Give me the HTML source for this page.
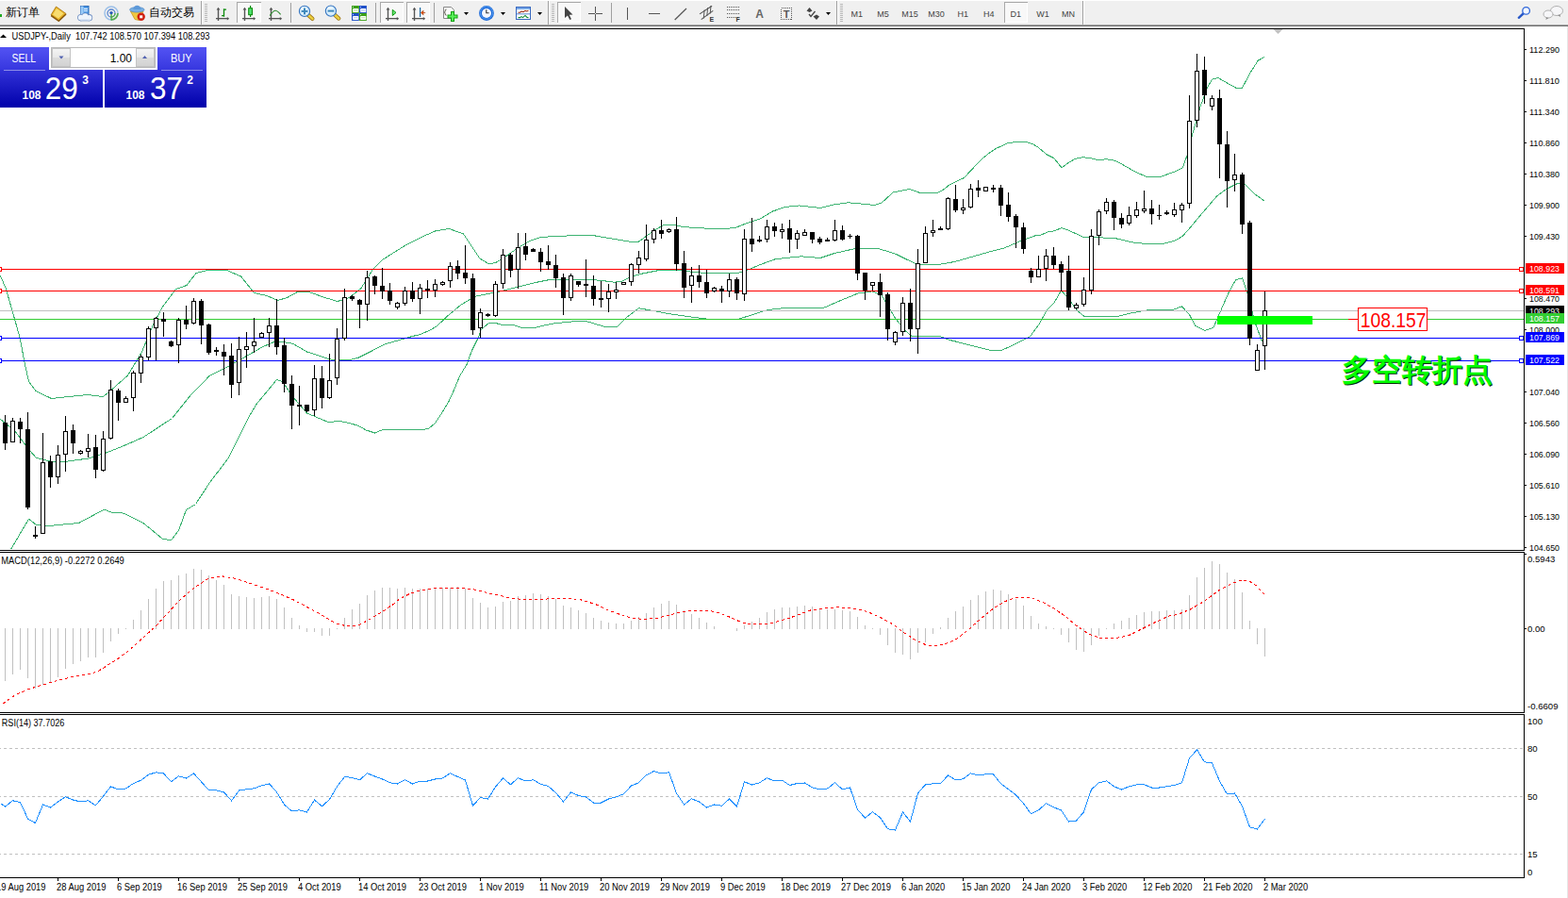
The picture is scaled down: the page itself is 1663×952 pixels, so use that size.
<!DOCTYPE html>
<html><head><meta charset="utf-8"><title>USDJPY Daily</title>
<style>
html,body{margin:0;padding:0;background:#fff;}
body{width:1663px;height:952px;overflow:hidden;font-family:"Liberation Sans",sans-serif;}
svg{display:block;position:absolute;left:0;top:0;}
text{font-family:"Liberation Sans",sans-serif;}
</style></head>
<body>
<svg width="1663" height="952" viewBox="0 0 1663 952">
<rect x="0" y="0" width="1663" height="952" fill="#fff" />
<rect x="0" y="1" width="1663" height="25" fill="#f0f0f0" />
<rect x="0" y="26" width="1663" height="1" fill="#a8a8a8" />
<rect x="0" y="27" width="1663" height="1" fill="#6e6e6e" />
<rect x="1662" y="28" width="1" height="924" fill="#e6e6e6" />
<rect x="0" y="30" width="1617" height="1" fill="#000" />
<rect x="1616" y="30" width="1" height="554" fill="#000" />
<rect x="0" y="583" width="1617" height="1" fill="#000" />
<rect x="0" y="585" width="1617" height="1" fill="#000" />
<rect x="1616" y="585" width="1" height="171" fill="#000" />
<rect x="0" y="755" width="1617" height="1" fill="#000" />
<rect x="0" y="757" width="1617" height="1" fill="#000" />
<rect x="1616" y="757" width="1" height="174" fill="#000" />
<rect x="0" y="930" width="1617" height="1" fill="#000" />
<g font-family="Liberation Sans, sans-serif" font-size="9">
<rect x="1617" y="52" width="2" height="1" fill="#000" />
<text x="1622" y="55.6" font-size="9.8" fill="#000" text-anchor="start" font-weight="normal" textLength="32" lengthAdjust="spacingAndGlyphs">112.290</text>
<rect x="1617" y="85" width="2" height="1" fill="#000" />
<text x="1622" y="88.6" font-size="9.8" fill="#000" text-anchor="start" font-weight="normal" textLength="32" lengthAdjust="spacingAndGlyphs">111.810</text>
<rect x="1617" y="118" width="2" height="1" fill="#000" />
<text x="1622" y="121.6" font-size="9.8" fill="#000" text-anchor="start" font-weight="normal" textLength="32" lengthAdjust="spacingAndGlyphs">111.340</text>
<rect x="1617" y="151" width="2" height="1" fill="#000" />
<text x="1622" y="154.6" font-size="9.8" fill="#000" text-anchor="start" font-weight="normal" textLength="32" lengthAdjust="spacingAndGlyphs">110.860</text>
<rect x="1617" y="184" width="2" height="1" fill="#000" />
<text x="1622" y="187.6" font-size="9.8" fill="#000" text-anchor="start" font-weight="normal" textLength="32" lengthAdjust="spacingAndGlyphs">110.380</text>
<rect x="1617" y="217" width="2" height="1" fill="#000" />
<text x="1622" y="220.6" font-size="9.8" fill="#000" text-anchor="start" font-weight="normal" textLength="32" lengthAdjust="spacingAndGlyphs">109.900</text>
<rect x="1617" y="250" width="2" height="1" fill="#000" />
<text x="1622" y="253.6" font-size="9.8" fill="#000" text-anchor="start" font-weight="normal" textLength="32" lengthAdjust="spacingAndGlyphs">109.430</text>
<rect x="1617" y="316" width="2" height="1" fill="#000" />
<text x="1622" y="319.6" font-size="9.8" fill="#000" text-anchor="start" font-weight="normal" textLength="32" lengthAdjust="spacingAndGlyphs">108.470</text>
<rect x="1617" y="349" width="2" height="1" fill="#000" />
<text x="1622" y="352.6" font-size="9.8" fill="#000" text-anchor="start" font-weight="normal" textLength="32" lengthAdjust="spacingAndGlyphs">108.000</text>
<rect x="1617" y="415" width="2" height="1" fill="#000" />
<text x="1622" y="418.6" font-size="9.8" fill="#000" text-anchor="start" font-weight="normal" textLength="32" lengthAdjust="spacingAndGlyphs">107.040</text>
<rect x="1617" y="448" width="2" height="1" fill="#000" />
<text x="1622" y="451.6" font-size="9.8" fill="#000" text-anchor="start" font-weight="normal" textLength="32" lengthAdjust="spacingAndGlyphs">106.560</text>
<rect x="1617" y="481" width="2" height="1" fill="#000" />
<text x="1622" y="484.6" font-size="9.8" fill="#000" text-anchor="start" font-weight="normal" textLength="32" lengthAdjust="spacingAndGlyphs">106.090</text>
<rect x="1617" y="514" width="2" height="1" fill="#000" />
<text x="1622" y="517.6" font-size="9.8" fill="#000" text-anchor="start" font-weight="normal" textLength="32" lengthAdjust="spacingAndGlyphs">105.610</text>
<rect x="1617" y="547" width="2" height="1" fill="#000" />
<text x="1622" y="550.6" font-size="9.8" fill="#000" text-anchor="start" font-weight="normal" textLength="32" lengthAdjust="spacingAndGlyphs">105.130</text>
<rect x="1617" y="580" width="2" height="1" fill="#000" />
<text x="1622" y="583.6" font-size="9.8" fill="#000" text-anchor="start" font-weight="normal" textLength="32" lengthAdjust="spacingAndGlyphs">104.650</text>
<text x="1620" y="596" font-size="9.6" fill="#000" text-anchor="start" font-weight="normal" >0.5943</text>
<rect x="1617" y="666" width="2" height="1" fill="#000" />
<text x="1620" y="669.5" font-size="9.6" fill="#000" text-anchor="start" font-weight="normal" >0.00</text>
<text x="1620" y="752" font-size="9.6" fill="#000" text-anchor="start" font-weight="normal" >-0.6609</text>
<rect x="1617" y="587" width="2" height="1" fill="#000" />
<text x="1620" y="767.5" font-size="9.6" fill="#000" text-anchor="start" font-weight="normal" >100</text>
<text x="1620" y="796.5" font-size="9.6" fill="#000" text-anchor="start" font-weight="normal" >80</text>
<text x="1620" y="847.5" font-size="9.6" fill="#000" text-anchor="start" font-weight="normal" >50</text>
<text x="1620" y="908.5" font-size="9.6" fill="#000" text-anchor="start" font-weight="normal" >15</text>
<text x="1620" y="927.5" font-size="9.6" fill="#000" text-anchor="start" font-weight="normal" >0</text>
</g>
<g shape-rendering="crispEdges">
<polyline points="0.5,292.5 6.2,305.8 13.1,329.7 21.3,358.7 25.7,382.7 30.5,404.5 38.0,414.5 54.5,422.5 73.0,420.5 93.0,418.5 109.5,420.5 118.0,413.5 135.5,398.0 150.5,373.0 163.0,343.0 173.0,324.5 186.5,306.5 198.0,302.5 208.0,289.5 220.5,286.5 240.5,286.5 255.5,293.0 269.5,310.5 283.0,313.5 294.5,318.5 304.5,315.5 315.5,309.5 328.0,309.5 343.0,315.0 358.0,319.5 370.5,315.5 383.0,305.5 395.5,285.5 405.5,275.5 416.5,268.5 431.5,259.2 449.0,250.5 461.5,245.0 476.5,242.5 491.5,248.0 501.5,263.0 509.0,274.2 519.0,280.0 526.5,278.0 536.5,271.8 549.0,263.0 561.5,255.5 574.0,251.5 591.5,250.2 611.5,249.8 631.5,250.0 649.0,253.0 666.5,256.0 676.5,256.8 685.2,250.5 694.0,244.2 704.0,238.5 714.0,238.0 724.0,240.5 741.5,241.8 761.5,242.5 779.0,241.8 791.5,236.8 806.5,231.8 819.0,224.2 832.5,219.5 847.5,218.0 870.0,220.5 885.0,216.8 900.0,214.8 915.0,216.2 927.5,217.5 935.0,215.0 947.5,203.8 965.0,200.5 975.0,204.2 995.0,204.2 1000.5,201.1 1006.8,196.1 1014.4,192.3 1022.5,188.5 1030.8,179.7 1039.5,170.2 1048.5,162.7 1056.0,157.6 1068.5,151.9 1076.2,150.7 1088.8,150.7 1095.1,152.5 1101.4,156.4 1110.2,163.9 1117.8,167.7 1126.0,177.8 1132.9,172.7 1140.5,168.3 1148.0,166.8 1155.5,167.3 1165.7,169.8 1173.3,168.7 1182.1,170.2 1189.7,174.0 1199.7,179.7 1208.5,184.1 1215.5,187.2 1230.5,187.5 1245.5,182.2 1254.2,178.0 1259.2,164.2 1264.2,144.2 1273.0,113.0 1280.5,93.0 1285.5,84.2 1291.8,82.5 1300.5,87.5 1310.5,93.0 1317.2,93.8 1325.5,78.0 1334.2,64.2 1341.0,60.5" fill="none" stroke="#3cb371" stroke-width="1" />
<polyline points="0.5,444.5 15.5,456.5 28.5,474.0 38.5,485.5 53.5,489.1 71.2,489.1 93.9,486.0 114.1,479.5 131.5,472.5 152.0,463.5 182.5,443.5 202.5,418.5 222.5,398.2 242.9,388.1 260.5,378.0 278.0,368.0 293.0,361.5 310.5,364.2 325.5,373.0 350.5,381.0 370.5,381.8 380.5,379.0 393.1,372.7 407.6,365.1 420.9,361.3 433.5,357.5 446.1,354.4 456.2,350.0 463.7,345.5 474.0,335.5 489.0,323.0 504.0,314.2 516.5,311.8 529.0,309.2 549.0,304.2 566.5,299.8 581.5,296.8 596.5,296.0 616.5,296.2 636.5,297.2 651.5,299.2 659.0,298.5 669.0,293.5 681.5,290.0 699.0,286.5 716.5,286.2 731.5,288.0 749.0,289.5 766.5,289.8 781.5,289.8 791.5,286.8 806.5,280.5 821.5,275.0 832.5,273.5 850.0,271.8 870.0,273.5 885.0,268.5 905.0,264.0 932.5,263.8 950.0,269.2 962.5,275.5 972.5,280.0 995.0,280.5 1012.5,277.5 1032.5,271.8 1050.0,266.8 1065.0,263.0 1082.5,255.5 1097.5,250.0 1102.5,249.7 1111.5,245.9 1119.0,244.6 1126.0,241.5 1134.2,244.6 1145.5,249.7 1150.0,251.8 1165.0,251.8 1182.5,252.5 1200.0,256.8 1217.5,258.8 1232.5,258.5 1245.5,255.5 1254.2,250.5 1263.0,240.5 1275.5,225.5 1290.5,208.0 1300.5,200.5 1313.0,194.2 1320.5,195.5 1330.5,205.5 1341.0,213.0" fill="none" stroke="#3cb371" stroke-width="1" />
<polyline points="11.5,582.5 30.5,550.2 38.5,556.5 53.5,557.3 83.5,554.5 110.5,540.1 119.2,543.5 131.5,544.1 152.0,554.5 172.2,571.1 181.5,572.9 189.5,562.3 197.5,540.5 207.5,534.5 222.5,511.5 242.5,485.3 263.1,443.5 272.0,428.5 293.5,402.5 299.5,404.5 310.5,420.5 325.5,438.0 348.0,447.5 360.5,446.5 370.5,448.5 380.5,451.5 388.1,455.9 397.5,459.0 405.1,455.9 418.3,455.9 433.5,455.3 443.5,455.9 454.3,454.6 461.2,448.9 468.8,437.6 476.3,425.0 481.4,413.6 487.7,398.5 495.3,385.9 500.3,372.0 506.6,359.4 510.4,349.3 518.0,342.8 526.8,342.8 534.3,344.9 543.2,344.0 554.5,347.8 565.9,347.8 577.2,344.9 588.5,342.8 606.5,341.0 621.5,340.5 634.0,344.2 644.0,347.0 654.0,346.8 664.0,336.8 677.5,326.8 691.5,329.2 711.5,333.0 729.0,335.5 749.0,338.0 766.5,338.5 784.0,338.0 796.5,334.2 811.5,329.2 824.0,327.2 832.5,326.8 872.5,326.8 890.0,319.2 910.0,311.0 925.0,308.8 935.0,313.0 942.5,325.5 950.0,338.0 960.0,350.5 967.5,356.8 997.5,356.8 1007.5,360.5 1032.5,366.8 1052.5,371.8 1062.5,371.2 1072.5,366.8 1092.5,356.8 1102.5,343.0 1110.0,329.2 1117.5,321.8 1125.5,308.0 1132.5,315.5 1142.5,329.2 1150.0,335.5 1182.5,336.0 1200.0,331.8 1217.5,328.8 1243.0,328.8 1253.5,324.8 1261.8,334.2 1268.0,345.5 1278.0,350.5 1286.8,347.5 1294.2,330.5 1303.0,310.5 1310.5,296.8 1317.5,294.8 1323.0,310.5 1330.5,340.5 1338.0,360.5 1340.5,363.0" fill="none" stroke="#3cb371" stroke-width="1" />
</g>
<rect x="0" y="329" width="1616" height="1" fill="#c0c0c0" />
<rect x="0" y="285" width="1616" height="1" fill="#ff0000" />
<rect x="-2.5" y="283.5" width="4" height="4" fill="#fff" stroke="#ff0000" stroke-width="1" shape-rendering="crispEdges"/>
<rect x="1611.5" y="283.5" width="4" height="4" fill="#fff" stroke="#ff0000" stroke-width="1" shape-rendering="crispEdges"/>
<rect x="0" y="308" width="1616" height="1" fill="#ff0000" />
<rect x="-2.5" y="306.5" width="4" height="4" fill="#fff" stroke="#ff0000" stroke-width="1" shape-rendering="crispEdges"/>
<rect x="1611.5" y="306.5" width="4" height="4" fill="#fff" stroke="#ff0000" stroke-width="1" shape-rendering="crispEdges"/>
<rect x="0" y="358" width="1616" height="1" fill="#0000ff" />
<rect x="-2.5" y="356.5" width="4" height="4" fill="#fff" stroke="#0000ff" stroke-width="1" shape-rendering="crispEdges"/>
<rect x="1611.5" y="356.5" width="4" height="4" fill="#fff" stroke="#0000ff" stroke-width="1" shape-rendering="crispEdges"/>
<rect x="0" y="382" width="1616" height="1" fill="#0000ff" />
<rect x="-2.5" y="380.5" width="4" height="4" fill="#fff" stroke="#0000ff" stroke-width="1" shape-rendering="crispEdges"/>
<rect x="1611.5" y="380.5" width="4" height="4" fill="#fff" stroke="#0000ff" stroke-width="1" shape-rendering="crispEdges"/>
<rect x="0" y="338" width="1616" height="1" fill="#32cd32" />
<g shape-rendering="crispEdges">
<rect x="5" y="440" width="1" height="37" fill="#000" />
<rect x="3" y="448" width="5" height="22" fill="#000" />
<rect x="13" y="443" width="1" height="26" fill="#000" />
<rect x="11" y="446" width="5" height="23" fill="#000" />
<rect x="12" y="447" width="3" height="21" fill="#fff" />
<rect x="21" y="443" width="1" height="27" fill="#000" />
<rect x="19" y="447" width="5" height="8" fill="#000" />
<rect x="29" y="437" width="1" height="103" fill="#000" />
<rect x="27" y="455" width="5" height="83" fill="#000" />
<rect x="37" y="558" width="1" height="13" fill="#000" />
<rect x="35" y="567" width="5" height="2" fill="#000" />
<rect x="45" y="459" width="1" height="107" fill="#000" />
<rect x="43" y="490" width="5" height="76" fill="#000" />
<rect x="44" y="491" width="3" height="74" fill="#fff" />
<rect x="53" y="483" width="1" height="34" fill="#000" />
<rect x="51" y="489" width="5" height="17" fill="#000" />
<rect x="61" y="472" width="1" height="41" fill="#000" />
<rect x="59" y="482" width="5" height="24" fill="#000" />
<rect x="60" y="483" width="3" height="22" fill="#fff" />
<rect x="69" y="441" width="1" height="59" fill="#000" />
<rect x="67" y="457" width="5" height="25" fill="#000" />
<rect x="68" y="458" width="3" height="23" fill="#fff" />
<rect x="77" y="450" width="1" height="31" fill="#000" />
<rect x="75" y="456" width="5" height="14" fill="#000" />
<rect x="85" y="477" width="1" height="5" fill="#000" />
<rect x="83" y="478" width="5" height="3" fill="#000" />
<rect x="84" y="479" width="3" height="1" fill="#fff" />
<rect x="93" y="460" width="1" height="25" fill="#000" />
<rect x="91" y="475" width="5" height="4" fill="#000" />
<rect x="92" y="476" width="3" height="2" fill="#fff" />
<rect x="101" y="461" width="1" height="46" fill="#000" />
<rect x="99" y="474" width="5" height="24" fill="#000" />
<rect x="109" y="457" width="1" height="43" fill="#000" />
<rect x="107" y="465" width="5" height="34" fill="#000" />
<rect x="108" y="466" width="3" height="32" fill="#fff" />
<rect x="117" y="403" width="1" height="63" fill="#000" />
<rect x="115" y="413" width="5" height="52" fill="#000" />
<rect x="116" y="414" width="3" height="50" fill="#fff" />
<rect x="125" y="412" width="1" height="34" fill="#000" />
<rect x="123" y="414" width="5" height="13" fill="#000" />
<rect x="133" y="420" width="1" height="7" fill="#000" />
<rect x="131" y="422" width="5" height="5" fill="#000" />
<rect x="132" y="423" width="3" height="3" fill="#fff" />
<rect x="141" y="393" width="1" height="43" fill="#000" />
<rect x="139" y="395" width="5" height="27" fill="#000" />
<rect x="140" y="396" width="3" height="25" fill="#fff" />
<rect x="149" y="376" width="1" height="30" fill="#000" />
<rect x="147" y="378" width="5" height="18" fill="#000" />
<rect x="148" y="379" width="3" height="16" fill="#fff" />
<rect x="157" y="346" width="1" height="36" fill="#000" />
<rect x="155" y="348" width="5" height="31" fill="#000" />
<rect x="156" y="349" width="3" height="29" fill="#fff" />
<rect x="165" y="336" width="1" height="46" fill="#000" />
<rect x="163" y="337" width="5" height="11" fill="#000" />
<rect x="164" y="338" width="3" height="9" fill="#fff" />
<rect x="173" y="331" width="1" height="26" fill="#000" />
<rect x="171" y="338" width="5" height="3" fill="#000" />
<rect x="181" y="361" width="1" height="7" fill="#000" />
<rect x="179" y="362" width="5" height="5" fill="#000" />
<rect x="189" y="337" width="1" height="48" fill="#000" />
<rect x="187" y="339" width="5" height="27" fill="#000" />
<rect x="188" y="340" width="3" height="25" fill="#fff" />
<rect x="197" y="324" width="1" height="25" fill="#000" />
<rect x="195" y="339" width="5" height="5" fill="#000" />
<rect x="205" y="316" width="1" height="28" fill="#000" />
<rect x="203" y="319" width="5" height="24" fill="#000" />
<rect x="204" y="320" width="3" height="22" fill="#fff" />
<rect x="213" y="317" width="1" height="48" fill="#000" />
<rect x="211" y="319" width="5" height="26" fill="#000" />
<rect x="221" y="343" width="1" height="33" fill="#000" />
<rect x="219" y="344" width="5" height="30" fill="#000" />
<rect x="229" y="368" width="1" height="9" fill="#000" />
<rect x="227" y="371" width="5" height="2" fill="#000" />
<rect x="237" y="365" width="1" height="33" fill="#000" />
<rect x="235" y="373" width="5" height="5" fill="#000" />
<rect x="245" y="364" width="1" height="58" fill="#000" />
<rect x="243" y="377" width="5" height="31" fill="#000" />
<rect x="253" y="357" width="1" height="62" fill="#000" />
<rect x="251" y="370" width="5" height="36" fill="#000" />
<rect x="252" y="371" width="3" height="34" fill="#fff" />
<rect x="261" y="352" width="1" height="38" fill="#000" />
<rect x="259" y="367" width="5" height="4" fill="#000" />
<rect x="260" y="368" width="3" height="2" fill="#fff" />
<rect x="269" y="337" width="1" height="37" fill="#000" />
<rect x="267" y="362" width="5" height="5" fill="#000" />
<rect x="268" y="363" width="3" height="3" fill="#fff" />
<rect x="277" y="352" width="1" height="6" fill="#000" />
<rect x="275" y="353" width="5" height="5" fill="#000" />
<rect x="276" y="354" width="3" height="3" fill="#fff" />
<rect x="285" y="337" width="1" height="31" fill="#000" />
<rect x="283" y="345" width="5" height="8" fill="#000" />
<rect x="284" y="346" width="3" height="6" fill="#fff" />
<rect x="293" y="317" width="1" height="59" fill="#000" />
<rect x="291" y="345" width="5" height="23" fill="#000" />
<rect x="301" y="358" width="1" height="58" fill="#000" />
<rect x="299" y="366" width="5" height="41" fill="#000" />
<rect x="309" y="398" width="1" height="57" fill="#000" />
<rect x="307" y="407" width="5" height="23" fill="#000" />
<rect x="317" y="409" width="1" height="42" fill="#000" />
<rect x="315" y="429" width="5" height="2" fill="#000" />
<rect x="325" y="429" width="1" height="8" fill="#000" />
<rect x="323" y="429" width="5" height="7" fill="#000" />
<rect x="333" y="387" width="1" height="54" fill="#000" />
<rect x="331" y="401" width="5" height="34" fill="#000" />
<rect x="332" y="402" width="3" height="32" fill="#fff" />
<rect x="341" y="388" width="1" height="45" fill="#000" />
<rect x="339" y="401" width="5" height="21" fill="#000" />
<rect x="349" y="375" width="1" height="48" fill="#000" />
<rect x="347" y="403" width="5" height="19" fill="#000" />
<rect x="348" y="404" width="3" height="17" fill="#fff" />
<rect x="357" y="348" width="1" height="60" fill="#000" />
<rect x="355" y="359" width="5" height="42" fill="#000" />
<rect x="356" y="360" width="3" height="40" fill="#fff" />
<rect x="365" y="306" width="1" height="55" fill="#000" />
<rect x="363" y="315" width="5" height="44" fill="#000" />
<rect x="364" y="316" width="3" height="42" fill="#fff" />
<rect x="373" y="313" width="1" height="6" fill="#000" />
<rect x="371" y="314" width="5" height="3" fill="#000" />
<rect x="381" y="317" width="1" height="31" fill="#000" />
<rect x="379" y="318" width="5" height="5" fill="#000" />
<rect x="389" y="287" width="1" height="53" fill="#000" />
<rect x="387" y="294" width="5" height="29" fill="#000" />
<rect x="388" y="295" width="3" height="27" fill="#fff" />
<rect x="397" y="292" width="1" height="20" fill="#000" />
<rect x="395" y="293" width="5" height="10" fill="#000" />
<rect x="405" y="284" width="1" height="33" fill="#000" />
<rect x="403" y="303" width="5" height="6" fill="#000" />
<rect x="413" y="300" width="1" height="23" fill="#000" />
<rect x="411" y="308" width="5" height="11" fill="#000" />
<rect x="421" y="320" width="1" height="8" fill="#000" />
<rect x="419" y="321" width="5" height="5" fill="#000" />
<rect x="420" y="322" width="3" height="3" fill="#fff" />
<rect x="429" y="304" width="1" height="20" fill="#000" />
<rect x="427" y="308" width="5" height="14" fill="#000" />
<rect x="428" y="309" width="3" height="12" fill="#fff" />
<rect x="437" y="299" width="1" height="21" fill="#000" />
<rect x="435" y="308" width="5" height="9" fill="#000" />
<rect x="445" y="301" width="1" height="32" fill="#000" />
<rect x="443" y="305" width="5" height="12" fill="#000" />
<rect x="444" y="306" width="3" height="10" fill="#fff" />
<rect x="453" y="297" width="1" height="19" fill="#000" />
<rect x="451" y="306" width="5" height="2" fill="#000" />
<rect x="461" y="296" width="1" height="19" fill="#000" />
<rect x="459" y="301" width="5" height="7" fill="#000" />
<rect x="460" y="302" width="3" height="5" fill="#fff" />
<rect x="469" y="298" width="1" height="5" fill="#000" />
<rect x="467" y="299" width="5" height="3" fill="#000" />
<rect x="468" y="300" width="3" height="1" fill="#fff" />
<rect x="477" y="278" width="1" height="27" fill="#000" />
<rect x="475" y="282" width="5" height="16" fill="#000" />
<rect x="476" y="283" width="3" height="14" fill="#fff" />
<rect x="485" y="276" width="1" height="20" fill="#000" />
<rect x="483" y="282" width="5" height="8" fill="#000" />
<rect x="493" y="260" width="1" height="41" fill="#000" />
<rect x="491" y="289" width="5" height="6" fill="#000" />
<rect x="501" y="290" width="1" height="65" fill="#000" />
<rect x="499" y="295" width="5" height="55" fill="#000" />
<rect x="509" y="327" width="1" height="31" fill="#000" />
<rect x="507" y="331" width="5" height="17" fill="#000" />
<rect x="508" y="332" width="3" height="15" fill="#fff" />
<rect x="517" y="332" width="1" height="4" fill="#000" />
<rect x="515" y="333" width="5" height="2" fill="#000" />
<rect x="525" y="298" width="1" height="38" fill="#000" />
<rect x="523" y="301" width="5" height="34" fill="#000" />
<rect x="524" y="302" width="3" height="32" fill="#fff" />
<rect x="533" y="264" width="1" height="42" fill="#000" />
<rect x="531" y="270" width="5" height="31" fill="#000" />
<rect x="532" y="271" width="3" height="29" fill="#fff" />
<rect x="541" y="268" width="1" height="26" fill="#000" />
<rect x="539" y="270" width="5" height="17" fill="#000" />
<rect x="549" y="247" width="1" height="59" fill="#000" />
<rect x="547" y="262" width="5" height="24" fill="#000" />
<rect x="548" y="263" width="3" height="22" fill="#fff" />
<rect x="557" y="247" width="1" height="29" fill="#000" />
<rect x="555" y="261" width="5" height="9" fill="#000" />
<rect x="565" y="263" width="1" height="4" fill="#000" />
<rect x="563" y="264" width="5" height="3" fill="#000" />
<rect x="573" y="263" width="1" height="25" fill="#000" />
<rect x="571" y="267" width="5" height="11" fill="#000" />
<rect x="581" y="260" width="1" height="26" fill="#000" />
<rect x="579" y="277" width="5" height="4" fill="#000" />
<rect x="589" y="270" width="1" height="35" fill="#000" />
<rect x="587" y="281" width="5" height="14" fill="#000" />
<rect x="597" y="290" width="1" height="44" fill="#000" />
<rect x="595" y="294" width="5" height="22" fill="#000" />
<rect x="605" y="290" width="1" height="29" fill="#000" />
<rect x="603" y="292" width="5" height="24" fill="#000" />
<rect x="604" y="293" width="3" height="22" fill="#fff" />
<rect x="613" y="298" width="1" height="6" fill="#000" />
<rect x="611" y="298" width="5" height="4" fill="#000" />
<rect x="621" y="275" width="1" height="40" fill="#000" />
<rect x="619" y="301" width="5" height="2" fill="#000" />
<rect x="629" y="292" width="1" height="32" fill="#000" />
<rect x="627" y="303" width="5" height="14" fill="#000" />
<rect x="637" y="298" width="1" height="28" fill="#000" />
<rect x="635" y="316" width="5" height="2" fill="#000" />
<rect x="645" y="301" width="1" height="30" fill="#000" />
<rect x="643" y="309" width="5" height="8" fill="#000" />
<rect x="644" y="310" width="3" height="6" fill="#fff" />
<rect x="653" y="299" width="1" height="18" fill="#000" />
<rect x="651" y="307" width="5" height="3" fill="#000" />
<rect x="652" y="308" width="3" height="1" fill="#fff" />
<rect x="661" y="299" width="1" height="3" fill="#000" />
<rect x="659" y="299" width="5" height="3" fill="#000" />
<rect x="660" y="300" width="3" height="1" fill="#fff" />
<rect x="669" y="279" width="1" height="24" fill="#000" />
<rect x="667" y="280" width="5" height="19" fill="#000" />
<rect x="668" y="281" width="3" height="17" fill="#fff" />
<rect x="677" y="266" width="1" height="24" fill="#000" />
<rect x="675" y="273" width="5" height="8" fill="#000" />
<rect x="676" y="274" width="3" height="6" fill="#fff" />
<rect x="685" y="238" width="1" height="39" fill="#000" />
<rect x="683" y="254" width="5" height="21" fill="#000" />
<rect x="684" y="255" width="3" height="19" fill="#fff" />
<rect x="693" y="242" width="1" height="16" fill="#000" />
<rect x="691" y="244" width="5" height="10" fill="#000" />
<rect x="692" y="245" width="3" height="8" fill="#fff" />
<rect x="701" y="233" width="1" height="20" fill="#000" />
<rect x="699" y="244" width="5" height="4" fill="#000" />
<rect x="709" y="242" width="1" height="5" fill="#000" />
<rect x="707" y="243" width="5" height="3" fill="#000" />
<rect x="708" y="244" width="3" height="1" fill="#fff" />
<rect x="717" y="230" width="1" height="57" fill="#000" />
<rect x="715" y="243" width="5" height="37" fill="#000" />
<rect x="725" y="266" width="1" height="50" fill="#000" />
<rect x="723" y="279" width="5" height="26" fill="#000" />
<rect x="733" y="283" width="1" height="38" fill="#000" />
<rect x="731" y="292" width="5" height="11" fill="#000" />
<rect x="732" y="293" width="3" height="9" fill="#fff" />
<rect x="741" y="281" width="1" height="24" fill="#000" />
<rect x="739" y="292" width="5" height="7" fill="#000" />
<rect x="749" y="286" width="1" height="30" fill="#000" />
<rect x="747" y="299" width="5" height="12" fill="#000" />
<rect x="757" y="304" width="1" height="6" fill="#000" />
<rect x="755" y="305" width="5" height="4" fill="#000" />
<rect x="756" y="306" width="3" height="2" fill="#fff" />
<rect x="765" y="303" width="1" height="18" fill="#000" />
<rect x="763" y="306" width="5" height="3" fill="#000" />
<rect x="773" y="290" width="1" height="25" fill="#000" />
<rect x="771" y="296" width="5" height="13" fill="#000" />
<rect x="772" y="297" width="3" height="11" fill="#fff" />
<rect x="781" y="294" width="1" height="24" fill="#000" />
<rect x="779" y="296" width="5" height="15" fill="#000" />
<rect x="789" y="243" width="1" height="76" fill="#000" />
<rect x="787" y="253" width="5" height="59" fill="#000" />
<rect x="788" y="254" width="3" height="57" fill="#fff" />
<rect x="797" y="231" width="1" height="36" fill="#000" />
<rect x="795" y="253" width="5" height="6" fill="#000" />
<rect x="805" y="250" width="1" height="7" fill="#000" />
<rect x="803" y="254" width="5" height="2" fill="#000" />
<rect x="813" y="233" width="1" height="24" fill="#000" />
<rect x="811" y="240" width="5" height="14" fill="#000" />
<rect x="812" y="241" width="3" height="12" fill="#fff" />
<rect x="821" y="236" width="1" height="15" fill="#000" />
<rect x="819" y="240" width="5" height="5" fill="#000" />
<rect x="829" y="237" width="1" height="16" fill="#000" />
<rect x="827" y="243" width="5" height="3" fill="#000" />
<rect x="828" y="244" width="3" height="1" fill="#fff" />
<rect x="837" y="233" width="1" height="35" fill="#000" />
<rect x="835" y="242" width="5" height="12" fill="#000" />
<rect x="845" y="244" width="1" height="20" fill="#000" />
<rect x="843" y="247" width="5" height="7" fill="#000" />
<rect x="844" y="248" width="3" height="5" fill="#fff" />
<rect x="853" y="243" width="1" height="7" fill="#000" />
<rect x="851" y="246" width="5" height="4" fill="#000" />
<rect x="852" y="247" width="3" height="2" fill="#fff" />
<rect x="861" y="246" width="1" height="12" fill="#000" />
<rect x="859" y="246" width="5" height="8" fill="#000" />
<rect x="869" y="251" width="1" height="8" fill="#000" />
<rect x="867" y="253" width="5" height="4" fill="#000" />
<rect x="877" y="252" width="1" height="4" fill="#000" />
<rect x="875" y="254" width="5" height="2" fill="#000" />
<rect x="885" y="233" width="1" height="23" fill="#000" />
<rect x="883" y="244" width="5" height="11" fill="#000" />
<rect x="884" y="245" width="3" height="9" fill="#fff" />
<rect x="893" y="239" width="1" height="16" fill="#000" />
<rect x="891" y="244" width="5" height="10" fill="#000" />
<rect x="901" y="248" width="1" height="5" fill="#000" />
<rect x="899" y="250" width="5" height="1" fill="#000" />
<rect x="909" y="249" width="1" height="48" fill="#000" />
<rect x="907" y="250" width="5" height="40" fill="#000" />
<rect x="917" y="289" width="1" height="29" fill="#000" />
<rect x="915" y="289" width="5" height="19" fill="#000" />
<rect x="925" y="299" width="1" height="9" fill="#000" />
<rect x="923" y="299" width="5" height="4" fill="#000" />
<rect x="924" y="300" width="3" height="2" fill="#fff" />
<rect x="933" y="290" width="1" height="46" fill="#000" />
<rect x="931" y="299" width="5" height="14" fill="#000" />
<rect x="941" y="310" width="1" height="51" fill="#000" />
<rect x="939" y="312" width="5" height="37" fill="#000" />
<rect x="949" y="351" width="1" height="15" fill="#000" />
<rect x="947" y="352" width="5" height="11" fill="#000" />
<rect x="948" y="353" width="3" height="9" fill="#fff" />
<rect x="957" y="315" width="1" height="41" fill="#000" />
<rect x="955" y="321" width="5" height="31" fill="#000" />
<rect x="956" y="322" width="3" height="29" fill="#fff" />
<rect x="965" y="306" width="1" height="56" fill="#000" />
<rect x="963" y="321" width="5" height="28" fill="#000" />
<rect x="973" y="264" width="1" height="111" fill="#000" />
<rect x="971" y="279" width="5" height="70" fill="#000" />
<rect x="972" y="280" width="3" height="68" fill="#fff" />
<rect x="981" y="240" width="1" height="39" fill="#000" />
<rect x="979" y="247" width="5" height="32" fill="#000" />
<rect x="980" y="248" width="3" height="30" fill="#fff" />
<rect x="989" y="233" width="1" height="18" fill="#000" />
<rect x="987" y="244" width="5" height="3" fill="#000" />
<rect x="988" y="245" width="3" height="1" fill="#fff" />
<rect x="997" y="240" width="1" height="4" fill="#000" />
<rect x="995" y="242" width="5" height="2" fill="#000" />
<rect x="1005" y="209" width="1" height="35" fill="#000" />
<rect x="1003" y="210" width="5" height="33" fill="#000" />
<rect x="1004" y="211" width="3" height="31" fill="#fff" />
<rect x="1013" y="196" width="1" height="29" fill="#000" />
<rect x="1011" y="211" width="5" height="12" fill="#000" />
<rect x="1021" y="211" width="1" height="16" fill="#000" />
<rect x="1019" y="220" width="5" height="3" fill="#000" />
<rect x="1020" y="221" width="3" height="1" fill="#fff" />
<rect x="1029" y="195" width="1" height="26" fill="#000" />
<rect x="1027" y="200" width="5" height="20" fill="#000" />
<rect x="1028" y="201" width="3" height="18" fill="#fff" />
<rect x="1037" y="191" width="1" height="18" fill="#000" />
<rect x="1035" y="199" width="5" height="3" fill="#000" />
<rect x="1045" y="198" width="1" height="5" fill="#000" />
<rect x="1043" y="198" width="5" height="5" fill="#000" />
<rect x="1044" y="199" width="3" height="3" fill="#fff" />
<rect x="1053" y="196" width="1" height="8" fill="#000" />
<rect x="1051" y="199" width="5" height="2" fill="#000" />
<rect x="1061" y="196" width="1" height="33" fill="#000" />
<rect x="1059" y="199" width="5" height="19" fill="#000" />
<rect x="1069" y="204" width="1" height="31" fill="#000" />
<rect x="1067" y="217" width="5" height="13" fill="#000" />
<rect x="1077" y="227" width="1" height="36" fill="#000" />
<rect x="1075" y="229" width="5" height="12" fill="#000" />
<rect x="1085" y="236" width="1" height="33" fill="#000" />
<rect x="1083" y="241" width="5" height="23" fill="#000" />
<rect x="1093" y="284" width="1" height="16" fill="#000" />
<rect x="1091" y="287" width="5" height="7" fill="#000" />
<rect x="1101" y="271" width="1" height="23" fill="#000" />
<rect x="1099" y="285" width="5" height="9" fill="#000" />
<rect x="1100" y="286" width="3" height="7" fill="#fff" />
<rect x="1109" y="264" width="1" height="34" fill="#000" />
<rect x="1107" y="271" width="5" height="14" fill="#000" />
<rect x="1108" y="272" width="3" height="12" fill="#fff" />
<rect x="1117" y="262" width="1" height="23" fill="#000" />
<rect x="1115" y="271" width="5" height="10" fill="#000" />
<rect x="1125" y="277" width="1" height="32" fill="#000" />
<rect x="1123" y="280" width="5" height="9" fill="#000" />
<rect x="1133" y="271" width="1" height="58" fill="#000" />
<rect x="1131" y="287" width="5" height="39" fill="#000" />
<rect x="1141" y="321" width="1" height="7" fill="#000" />
<rect x="1139" y="323" width="5" height="4" fill="#000" />
<rect x="1140" y="324" width="3" height="2" fill="#fff" />
<rect x="1149" y="294" width="1" height="31" fill="#000" />
<rect x="1147" y="307" width="5" height="16" fill="#000" />
<rect x="1148" y="308" width="3" height="14" fill="#fff" />
<rect x="1157" y="243" width="1" height="69" fill="#000" />
<rect x="1155" y="250" width="5" height="58" fill="#000" />
<rect x="1156" y="251" width="3" height="56" fill="#fff" />
<rect x="1165" y="222" width="1" height="38" fill="#000" />
<rect x="1163" y="224" width="5" height="26" fill="#000" />
<rect x="1164" y="225" width="3" height="24" fill="#fff" />
<rect x="1173" y="210" width="1" height="17" fill="#000" />
<rect x="1171" y="214" width="5" height="10" fill="#000" />
<rect x="1172" y="215" width="3" height="8" fill="#fff" />
<rect x="1181" y="212" width="1" height="32" fill="#000" />
<rect x="1179" y="214" width="5" height="17" fill="#000" />
<rect x="1189" y="226" width="1" height="16" fill="#000" />
<rect x="1187" y="231" width="5" height="7" fill="#000" />
<rect x="1197" y="219" width="1" height="20" fill="#000" />
<rect x="1195" y="228" width="5" height="9" fill="#000" />
<rect x="1196" y="229" width="3" height="7" fill="#fff" />
<rect x="1205" y="214" width="1" height="17" fill="#000" />
<rect x="1203" y="222" width="5" height="7" fill="#000" />
<rect x="1204" y="223" width="3" height="5" fill="#fff" />
<rect x="1213" y="202" width="1" height="24" fill="#000" />
<rect x="1211" y="221" width="5" height="3" fill="#000" />
<rect x="1212" y="222" width="3" height="1" fill="#fff" />
<rect x="1221" y="212" width="1" height="26" fill="#000" />
<rect x="1219" y="221" width="5" height="6" fill="#000" />
<rect x="1229" y="217" width="1" height="16" fill="#000" />
<rect x="1227" y="228" width="5" height="1" fill="#000" />
<rect x="1237" y="223" width="1" height="5" fill="#000" />
<rect x="1235" y="225" width="5" height="2" fill="#000" />
<rect x="1245" y="215" width="1" height="15" fill="#000" />
<rect x="1243" y="222" width="5" height="6" fill="#000" />
<rect x="1244" y="223" width="3" height="4" fill="#fff" />
<rect x="1253" y="215" width="1" height="21" fill="#000" />
<rect x="1251" y="217" width="5" height="6" fill="#000" />
<rect x="1252" y="218" width="3" height="4" fill="#fff" />
<rect x="1261" y="101" width="1" height="120" fill="#000" />
<rect x="1259" y="128" width="5" height="88" fill="#000" />
<rect x="1260" y="129" width="3" height="86" fill="#fff" />
<rect x="1269" y="57" width="1" height="78" fill="#000" />
<rect x="1267" y="75" width="5" height="53" fill="#000" />
<rect x="1268" y="76" width="3" height="51" fill="#fff" />
<rect x="1277" y="60" width="1" height="50" fill="#000" />
<rect x="1275" y="74" width="5" height="27" fill="#000" />
<rect x="1285" y="101" width="1" height="16" fill="#000" />
<rect x="1283" y="104" width="5" height="9" fill="#000" />
<rect x="1284" y="105" width="3" height="7" fill="#fff" />
<rect x="1293" y="95" width="1" height="94" fill="#000" />
<rect x="1291" y="104" width="5" height="49" fill="#000" />
<rect x="1301" y="139" width="1" height="81" fill="#000" />
<rect x="1299" y="153" width="5" height="39" fill="#000" />
<rect x="1309" y="163" width="1" height="40" fill="#000" />
<rect x="1307" y="185" width="5" height="6" fill="#000" />
<rect x="1308" y="186" width="3" height="4" fill="#fff" />
<rect x="1317" y="183" width="1" height="65" fill="#000" />
<rect x="1315" y="185" width="5" height="53" fill="#000" />
<rect x="1325" y="234" width="1" height="132" fill="#000" />
<rect x="1323" y="236" width="5" height="123" fill="#000" />
<rect x="1333" y="365" width="1" height="28" fill="#000" />
<rect x="1331" y="371" width="5" height="22" fill="#000" />
<rect x="1332" y="372" width="3" height="20" fill="#fff" />
<rect x="1341" y="309" width="1" height="83" fill="#000" />
<rect x="1339" y="329" width="5" height="38" fill="#000" />
<rect x="1340" y="330" width="3" height="36" fill="#fff" />
</g>
<rect x="1291" y="335" width="101" height="9" fill="#00ff00" />
<rect x="1430" y="338" width="11" height="1" fill="#ff0000" />
<rect x="1440.5" y="326.5" width="73" height="24" fill="#fff" stroke="#ff0000" stroke-width="1" shape-rendering="crispEdges"/>
<text x="1442.7" y="347.1" font-size="22.5" fill="#ff0000" text-anchor="start" font-weight="normal" font-family="Liberation Sans, sans-serif" textLength="69.8" lengthAdjust="spacingAndGlyphs">108.157</text>
<text x="1424" y="403.5" font-size="32" font-weight="bold" fill="#0a2a0a" font-family="'Liberation Serif', 'Noto Serif CJK SC', serif" textLength="160" lengthAdjust="spacingAndGlyphs">多空转折点</text>
<text x="1423" y="402.5" font-size="32" font-weight="bold" fill="#00ff00" font-family="'Liberation Serif', 'Noto Serif CJK SC', serif" textLength="160" lengthAdjust="spacingAndGlyphs">多空转折点</text>
<rect x="1618" y="279" width="41" height="11" fill="#ff0000" />
<text x="1622" y="288.2" font-size="9.8" fill="#fff" text-anchor="start" font-weight="normal" font-family="Liberation Sans, sans-serif" textLength="32" lengthAdjust="spacingAndGlyphs">108.923</text>
<rect x="1618" y="302" width="41" height="11" fill="#ff0000" />
<text x="1622" y="311.2" font-size="9.8" fill="#fff" text-anchor="start" font-weight="normal" font-family="Liberation Sans, sans-serif" textLength="32" lengthAdjust="spacingAndGlyphs">108.591</text>
<rect x="1618" y="324" width="41" height="11" fill="#000" />
<text x="1622" y="333.2" font-size="9.8" fill="#fff" text-anchor="start" font-weight="normal" font-family="Liberation Sans, sans-serif" textLength="32" lengthAdjust="spacingAndGlyphs">108.293</text>
<rect x="1618" y="332" width="41" height="11" fill="#32cd32" />
<text x="1622" y="341.2" font-size="9.8" fill="#fff" text-anchor="start" font-weight="normal" font-family="Liberation Sans, sans-serif" textLength="32" lengthAdjust="spacingAndGlyphs">108.157</text>
<rect x="1618" y="352" width="41" height="11" fill="#0000ff" />
<text x="1622" y="361.2" font-size="9.8" fill="#fff" text-anchor="start" font-weight="normal" font-family="Liberation Sans, sans-serif" textLength="32" lengthAdjust="spacingAndGlyphs">107.869</text>
<rect x="1618" y="376" width="41" height="11" fill="#0000ff" />
<text x="1622" y="385.2" font-size="9.8" fill="#fff" text-anchor="start" font-weight="normal" font-family="Liberation Sans, sans-serif" textLength="32" lengthAdjust="spacingAndGlyphs">107.522</text>
<g shape-rendering="crispEdges">
<rect x="5" y="666" width="1" height="56" fill="#c0c0c0" />
<rect x="13" y="666" width="1" height="49" fill="#c0c0c0" />
<rect x="21" y="666" width="1" height="44" fill="#c0c0c0" />
<rect x="29" y="666" width="1" height="53" fill="#c0c0c0" />
<rect x="37" y="666" width="1" height="64" fill="#c0c0c0" />
<rect x="45" y="666" width="1" height="60" fill="#c0c0c0" />
<rect x="53" y="666" width="1" height="57" fill="#c0c0c0" />
<rect x="61" y="666" width="1" height="52" fill="#c0c0c0" />
<rect x="69" y="666" width="1" height="43" fill="#c0c0c0" />
<rect x="77" y="666" width="1" height="38" fill="#c0c0c0" />
<rect x="85" y="666" width="1" height="35" fill="#c0c0c0" />
<rect x="93" y="666" width="1" height="31" fill="#c0c0c0" />
<rect x="101" y="666" width="1" height="31" fill="#c0c0c0" />
<rect x="109" y="666" width="1" height="26" fill="#c0c0c0" />
<rect x="117" y="666" width="1" height="14" fill="#c0c0c0" />
<rect x="125" y="666" width="1" height="6" fill="#c0c0c0" />
<rect x="133" y="666" width="1" height="1" fill="#c0c0c0" />
<rect x="141" y="657" width="1" height="10" fill="#c0c0c0" />
<rect x="149" y="647" width="1" height="20" fill="#c0c0c0" />
<rect x="157" y="635" width="1" height="32" fill="#c0c0c0" />
<rect x="165" y="624" width="1" height="43" fill="#c0c0c0" />
<rect x="173" y="616" width="1" height="51" fill="#c0c0c0" />
<rect x="181" y="615" width="1" height="52" fill="#c0c0c0" />
<rect x="189" y="610" width="1" height="57" fill="#c0c0c0" />
<rect x="197" y="608" width="1" height="59" fill="#c0c0c0" />
<rect x="205" y="603" width="1" height="64" fill="#c0c0c0" />
<rect x="213" y="604" width="1" height="63" fill="#c0c0c0" />
<rect x="221" y="610" width="1" height="57" fill="#c0c0c0" />
<rect x="229" y="615" width="1" height="52" fill="#c0c0c0" />
<rect x="237" y="620" width="1" height="47" fill="#c0c0c0" />
<rect x="245" y="630" width="1" height="37" fill="#c0c0c0" />
<rect x="253" y="632" width="1" height="35" fill="#c0c0c0" />
<rect x="261" y="633" width="1" height="34" fill="#c0c0c0" />
<rect x="269" y="634" width="1" height="33" fill="#c0c0c0" />
<rect x="277" y="633" width="1" height="34" fill="#c0c0c0" />
<rect x="285" y="632" width="1" height="35" fill="#c0c0c0" />
<rect x="293" y="635" width="1" height="32" fill="#c0c0c0" />
<rect x="301" y="644" width="1" height="23" fill="#c0c0c0" />
<rect x="309" y="655" width="1" height="12" fill="#c0c0c0" />
<rect x="317" y="663" width="1" height="4" fill="#c0c0c0" />
<rect x="325" y="666" width="1" height="4" fill="#c0c0c0" />
<rect x="333" y="666" width="1" height="4" fill="#c0c0c0" />
<rect x="341" y="666" width="1" height="8" fill="#c0c0c0" />
<rect x="349" y="666" width="1" height="8" fill="#c0c0c0" />
<rect x="357" y="666" width="1" height="1" fill="#c0c0c0" />
<rect x="365" y="655" width="1" height="12" fill="#c0c0c0" />
<rect x="373" y="646" width="1" height="21" fill="#c0c0c0" />
<rect x="381" y="640" width="1" height="27" fill="#c0c0c0" />
<rect x="389" y="631" width="1" height="36" fill="#c0c0c0" />
<rect x="397" y="626" width="1" height="41" fill="#c0c0c0" />
<rect x="405" y="623" width="1" height="44" fill="#c0c0c0" />
<rect x="413" y="623" width="1" height="44" fill="#c0c0c0" />
<rect x="421" y="624" width="1" height="43" fill="#c0c0c0" />
<rect x="429" y="623" width="1" height="44" fill="#c0c0c0" />
<rect x="437" y="624" width="1" height="43" fill="#c0c0c0" />
<rect x="445" y="624" width="1" height="43" fill="#c0c0c0" />
<rect x="453" y="624" width="1" height="43" fill="#c0c0c0" />
<rect x="461" y="624" width="1" height="43" fill="#c0c0c0" />
<rect x="469" y="623" width="1" height="44" fill="#c0c0c0" />
<rect x="477" y="623" width="1" height="44" fill="#c0c0c0" />
<rect x="485" y="622" width="1" height="45" fill="#c0c0c0" />
<rect x="493" y="624" width="1" height="43" fill="#c0c0c0" />
<rect x="501" y="634" width="1" height="33" fill="#c0c0c0" />
<rect x="509" y="639" width="1" height="28" fill="#c0c0c0" />
<rect x="517" y="644" width="1" height="23" fill="#c0c0c0" />
<rect x="525" y="643" width="1" height="24" fill="#c0c0c0" />
<rect x="533" y="638" width="1" height="29" fill="#c0c0c0" />
<rect x="541" y="637" width="1" height="30" fill="#c0c0c0" />
<rect x="549" y="632" width="1" height="35" fill="#c0c0c0" />
<rect x="557" y="631" width="1" height="36" fill="#c0c0c0" />
<rect x="565" y="629" width="1" height="38" fill="#c0c0c0" />
<rect x="573" y="630" width="1" height="37" fill="#c0c0c0" />
<rect x="581" y="632" width="1" height="35" fill="#c0c0c0" />
<rect x="589" y="635" width="1" height="32" fill="#c0c0c0" />
<rect x="597" y="642" width="1" height="25" fill="#c0c0c0" />
<rect x="605" y="644" width="1" height="23" fill="#c0c0c0" />
<rect x="613" y="647" width="1" height="20" fill="#c0c0c0" />
<rect x="621" y="650" width="1" height="17" fill="#c0c0c0" />
<rect x="629" y="655" width="1" height="12" fill="#c0c0c0" />
<rect x="637" y="658" width="1" height="9" fill="#c0c0c0" />
<rect x="645" y="660" width="1" height="7" fill="#c0c0c0" />
<rect x="653" y="661" width="1" height="6" fill="#c0c0c0" />
<rect x="661" y="661" width="1" height="6" fill="#c0c0c0" />
<rect x="669" y="658" width="1" height="9" fill="#c0c0c0" />
<rect x="677" y="654" width="1" height="13" fill="#c0c0c0" />
<rect x="685" y="650" width="1" height="17" fill="#c0c0c0" />
<rect x="693" y="644" width="1" height="23" fill="#c0c0c0" />
<rect x="701" y="640" width="1" height="27" fill="#c0c0c0" />
<rect x="709" y="637" width="1" height="30" fill="#c0c0c0" />
<rect x="717" y="641" width="1" height="26" fill="#c0c0c0" />
<rect x="725" y="647" width="1" height="20" fill="#c0c0c0" />
<rect x="733" y="651" width="1" height="16" fill="#c0c0c0" />
<rect x="741" y="655" width="1" height="12" fill="#c0c0c0" />
<rect x="749" y="660" width="1" height="7" fill="#c0c0c0" />
<rect x="757" y="664" width="1" height="3" fill="#c0c0c0" />
<rect x="781" y="666" width="1" height="3" fill="#c0c0c0" />
<rect x="789" y="663" width="1" height="4" fill="#c0c0c0" />
<rect x="797" y="659" width="1" height="8" fill="#c0c0c0" />
<rect x="805" y="655" width="1" height="12" fill="#c0c0c0" />
<rect x="813" y="649" width="1" height="18" fill="#c0c0c0" />
<rect x="821" y="646" width="1" height="21" fill="#c0c0c0" />
<rect x="829" y="644" width="1" height="23" fill="#c0c0c0" />
<rect x="837" y="644" width="1" height="23" fill="#c0c0c0" />
<rect x="845" y="643" width="1" height="24" fill="#c0c0c0" />
<rect x="853" y="642" width="1" height="25" fill="#c0c0c0" />
<rect x="861" y="643" width="1" height="24" fill="#c0c0c0" />
<rect x="869" y="645" width="1" height="22" fill="#c0c0c0" />
<rect x="877" y="646" width="1" height="21" fill="#c0c0c0" />
<rect x="885" y="646" width="1" height="21" fill="#c0c0c0" />
<rect x="893" y="647" width="1" height="20" fill="#c0c0c0" />
<rect x="901" y="648" width="1" height="19" fill="#c0c0c0" />
<rect x="909" y="654" width="1" height="13" fill="#c0c0c0" />
<rect x="917" y="663" width="1" height="4" fill="#c0c0c0" />
<rect x="925" y="666" width="1" height="1" fill="#c0c0c0" />
<rect x="933" y="666" width="1" height="7" fill="#c0c0c0" />
<rect x="941" y="666" width="1" height="18" fill="#c0c0c0" />
<rect x="949" y="666" width="1" height="26" fill="#c0c0c0" />
<rect x="957" y="666" width="1" height="28" fill="#c0c0c0" />
<rect x="965" y="666" width="1" height="33" fill="#c0c0c0" />
<rect x="973" y="666" width="1" height="26" fill="#c0c0c0" />
<rect x="981" y="666" width="1" height="15" fill="#c0c0c0" />
<rect x="989" y="666" width="1" height="6" fill="#c0c0c0" />
<rect x="997" y="665" width="1" height="2" fill="#c0c0c0" />
<rect x="1005" y="655" width="1" height="12" fill="#c0c0c0" />
<rect x="1013" y="648" width="1" height="19" fill="#c0c0c0" />
<rect x="1021" y="643" width="1" height="24" fill="#c0c0c0" />
<rect x="1029" y="636" width="1" height="31" fill="#c0c0c0" />
<rect x="1037" y="631" width="1" height="36" fill="#c0c0c0" />
<rect x="1045" y="627" width="1" height="40" fill="#c0c0c0" />
<rect x="1053" y="625" width="1" height="42" fill="#c0c0c0" />
<rect x="1061" y="626" width="1" height="41" fill="#c0c0c0" />
<rect x="1069" y="630" width="1" height="37" fill="#c0c0c0" />
<rect x="1077" y="635" width="1" height="32" fill="#c0c0c0" />
<rect x="1085" y="642" width="1" height="25" fill="#c0c0c0" />
<rect x="1093" y="653" width="1" height="14" fill="#c0c0c0" />
<rect x="1101" y="661" width="1" height="6" fill="#c0c0c0" />
<rect x="1109" y="664" width="1" height="3" fill="#c0c0c0" />
<rect x="1117" y="666" width="1" height="1" fill="#c0c0c0" />
<rect x="1125" y="666" width="1" height="7" fill="#c0c0c0" />
<rect x="1133" y="666" width="1" height="15" fill="#c0c0c0" />
<rect x="1141" y="666" width="1" height="23" fill="#c0c0c0" />
<rect x="1149" y="666" width="1" height="25" fill="#c0c0c0" />
<rect x="1157" y="666" width="1" height="18" fill="#c0c0c0" />
<rect x="1165" y="666" width="1" height="8" fill="#c0c0c0" />
<rect x="1173" y="666" width="1" height="1" fill="#c0c0c0" />
<rect x="1181" y="661" width="1" height="6" fill="#c0c0c0" />
<rect x="1189" y="658" width="1" height="9" fill="#c0c0c0" />
<rect x="1197" y="655" width="1" height="12" fill="#c0c0c0" />
<rect x="1205" y="652" width="1" height="15" fill="#c0c0c0" />
<rect x="1213" y="649" width="1" height="18" fill="#c0c0c0" />
<rect x="1221" y="648" width="1" height="19" fill="#c0c0c0" />
<rect x="1229" y="648" width="1" height="19" fill="#c0c0c0" />
<rect x="1237" y="647" width="1" height="20" fill="#c0c0c0" />
<rect x="1245" y="647" width="1" height="20" fill="#c0c0c0" />
<rect x="1253" y="646" width="1" height="21" fill="#c0c0c0" />
<rect x="1261" y="631" width="1" height="36" fill="#c0c0c0" />
<rect x="1269" y="612" width="1" height="55" fill="#c0c0c0" />
<rect x="1277" y="602" width="1" height="65" fill="#c0c0c0" />
<rect x="1285" y="595" width="1" height="72" fill="#c0c0c0" />
<rect x="1293" y="598" width="1" height="69" fill="#c0c0c0" />
<rect x="1301" y="607" width="1" height="60" fill="#c0c0c0" />
<rect x="1309" y="614" width="1" height="53" fill="#c0c0c0" />
<rect x="1317" y="628" width="1" height="39" fill="#c0c0c0" />
<rect x="1325" y="658" width="1" height="9" fill="#c0c0c0" />
<rect x="1333" y="666" width="1" height="17" fill="#c0c0c0" />
<rect x="1341" y="666" width="1" height="30" fill="#c0c0c0" />
<polyline points="3.0,746.0 15.5,737.2 30.5,730.5 45.5,726.0 60.5,721.5 75.5,717.8 90.5,715.5 103.0,712.2 113.0,706.0 125.5,698.0 138.0,688.5 150.5,677.2 165.5,663.5 178.0,649.8 190.5,636.5 205.5,623.5 220.5,613.5 236.5,611.0 250.5,613.5 265.5,618.5 280.5,623.5 295.5,629.2 310.5,635.5 325.5,643.5 340.5,651.5 355.5,660.5 368.0,664.0 380.5,663.0 393.0,656.0 405.5,648.5 416.5,641.0 424.0,634.8 434.0,629.8 446.5,625.5 459.0,624.0 476.5,623.8 494.0,623.8 506.5,625.5 516.5,628.5 529.0,631.0 541.5,634.0 556.5,635.8 571.5,635.8 589.0,634.2 601.5,634.0 616.5,636.0 631.5,640.5 644.0,646.5 656.5,651.0 669.0,654.8 681.5,656.5 696.5,655.5 709.0,652.2 721.5,649.0 734.0,647.0 749.0,647.0 761.5,649.2 774.0,654.2 786.5,659.8 799.0,662.0 814.0,661.8 824.0,659.0 835.0,656.0 847.5,651.5 860.0,646.8 875.0,644.8 890.0,643.8 905.0,645.0 920.0,648.5 932.5,654.0 945.0,660.5 957.5,669.8 970.0,678.0 982.5,684.0 990.0,685.0 1002.5,682.8 1015.0,677.2 1027.5,667.2 1040.0,656.0 1052.5,646.0 1065.0,638.0 1077.5,633.2 1092.5,633.2 1105.0,638.0 1117.5,644.8 1130.0,653.5 1142.5,664.0 1155.0,672.2 1167.5,676.8 1182.5,676.8 1197.5,673.5 1212.5,666.0 1227.5,658.5 1240.0,653.0 1248.8,651.5 1262.5,646.0 1277.5,637.2 1292.5,626.0 1307.5,618.0 1317.5,614.8 1325.0,616.0 1332.5,621.0 1340.5,629.8" fill="none" stroke="#ff0000" stroke-width="1" stroke-dasharray="3 3"/>
</g>
<text x="1.3" y="598.2" font-size="10" fill="#000" text-anchor="start" font-weight="normal" font-family="Liberation Sans, sans-serif" textLength="130.5" lengthAdjust="spacingAndGlyphs">MACD(12,26,9) -0.2272 0.2649</text>
<g shape-rendering="crispEdges">
<line x1="-2" y1="793.5" x2="1616" y2="793.5" stroke="#c0c0c0" stroke-dasharray="3 3"/>
<line x1="-2" y1="844.5" x2="1616" y2="844.5" stroke="#c0c0c0" stroke-dasharray="3 3"/>
<line x1="-2" y1="905.5" x2="1616" y2="905.5" stroke="#c0c0c0" stroke-dasharray="3 3"/>
<polyline points="0.5,851.8 5.5,855.0 13.5,848.8 21.5,850.5 29.5,868.0 37.5,872.5 45.5,853.0 53.5,856.0 61.5,850.0 69.5,844.8 77.5,848.0 85.5,850.0 93.5,848.8 101.5,853.8 109.5,844.2 117.5,833.8 125.5,837.0 133.5,836.0 141.5,830.5 149.5,827.2 157.5,821.2 165.5,818.8 173.5,820.0 181.5,828.8 189.5,822.8 197.5,825.0 205.5,820.0 213.5,828.8 221.5,837.8 229.5,837.8 237.5,839.8 245.5,848.8 253.5,838.0 261.5,836.8 269.5,835.8 277.5,832.8 285.5,830.8 293.5,839.8 301.5,853.0 309.5,860.0 317.5,858.8 325.5,861.0 333.5,848.0 341.5,854.8 349.5,847.5 357.5,833.8 365.5,823.5 373.5,824.5 381.5,826.8 389.5,819.8 397.5,823.0 405.5,826.0 413.5,829.8 421.5,831.0 429.5,826.8 437.5,831.0 445.5,828.0 453.5,828.0 461.5,826.0 469.5,825.0 477.5,819.8 485.5,823.5 493.5,827.0 501.5,854.2 509.5,845.5 517.5,847.0 525.5,834.2 533.5,824.8 541.5,831.8 549.5,824.8 557.5,828.0 565.5,826.8 573.5,831.2 581.5,833.5 589.5,840.5 597.5,850.0 605.5,839.8 613.5,843.5 621.5,845.0 629.5,851.0 637.5,851.0 645.5,847.0 653.5,844.8 661.5,841.8 669.5,833.0 677.5,829.8 685.5,821.8 693.5,817.5 701.5,820.0 709.5,818.8 717.5,841.0 725.5,853.0 733.5,846.8 741.5,850.0 749.5,856.0 757.5,853.0 765.5,854.2 773.5,847.0 781.5,855.0 789.5,828.8 797.5,832.0 805.5,829.8 813.5,824.8 821.5,828.0 829.5,827.2 837.5,832.5 845.5,830.5 853.5,830.0 861.5,834.8 869.5,837.0 877.5,836.0 885.5,829.8 893.5,836.8 901.5,835.0 909.5,858.5 917.5,867.0 925.5,860.8 933.5,866.8 941.5,878.8 949.5,880.0 957.5,861.0 965.5,871.0 973.5,841.0 981.5,831.8 989.5,830.8 997.5,830.8 1005.5,821.8 1013.5,827.0 1021.5,825.8 1029.5,819.8 1037.5,822.0 1045.5,820.8 1053.5,820.8 1061.5,830.8 1069.5,836.8 1077.5,842.8 1085.5,851.8 1093.5,862.8 1101.5,858.8 1109.5,851.8 1117.5,855.8 1125.5,859.0 1133.5,871.0 1141.5,870.0 1149.5,860.8 1157.5,837.0 1165.5,829.8 1173.5,827.8 1181.5,833.8 1189.5,837.0 1197.5,833.8 1205.5,831.8 1213.5,831.8 1221.5,835.0 1229.5,835.0 1237.5,833.8 1245.5,832.5 1253.5,829.8 1261.5,803.8 1269.5,794.8 1277.5,807.8 1285.5,809.0 1293.5,828.0 1301.5,842.0 1309.5,841.0 1317.5,854.8 1325.5,876.8 1333.5,879.0 1341.5,868.0" fill="none" stroke="#1e90ff" stroke-width="1" />
</g>
<text x="1.8" y="770.2" font-size="10" fill="#000" text-anchor="start" font-weight="normal" font-family="Liberation Sans, sans-serif" textLength="66.5" lengthAdjust="spacingAndGlyphs">RSI(14) 37.7026</text>
<g font-family="Liberation Sans, sans-serif">
<text transform="translate(-4,944.2) scale(0.935,1)" font-size="10">19 Aug 2019</text>
<rect x="61" y="931" width="1" height="3" fill="#000" />
<text transform="translate(60,944.2) scale(0.935,1)" font-size="10">28 Aug 2019</text>
<rect x="125" y="931" width="1" height="3" fill="#000" />
<text transform="translate(124,944.2) scale(0.935,1)" font-size="10">6 Sep 2019</text>
<rect x="189" y="931" width="1" height="3" fill="#000" />
<text transform="translate(188,944.2) scale(0.935,1)" font-size="10">16 Sep 2019</text>
<rect x="253" y="931" width="1" height="3" fill="#000" />
<text transform="translate(252,944.2) scale(0.935,1)" font-size="10">25 Sep 2019</text>
<rect x="317" y="931" width="1" height="3" fill="#000" />
<text transform="translate(316,944.2) scale(0.935,1)" font-size="10">4 Oct 2019</text>
<rect x="381" y="931" width="1" height="3" fill="#000" />
<text transform="translate(380,944.2) scale(0.935,1)" font-size="10">14 Oct 2019</text>
<rect x="445" y="931" width="1" height="3" fill="#000" />
<text transform="translate(444,944.2) scale(0.935,1)" font-size="10">23 Oct 2019</text>
<rect x="509" y="931" width="1" height="3" fill="#000" />
<text transform="translate(508,944.2) scale(0.935,1)" font-size="10">1 Nov 2019</text>
<rect x="573" y="931" width="1" height="3" fill="#000" />
<text transform="translate(572,944.2) scale(0.935,1)" font-size="10">11 Nov 2019</text>
<rect x="637" y="931" width="1" height="3" fill="#000" />
<text transform="translate(636,944.2) scale(0.935,1)" font-size="10">20 Nov 2019</text>
<rect x="701" y="931" width="1" height="3" fill="#000" />
<text transform="translate(700,944.2) scale(0.935,1)" font-size="10">29 Nov 2019</text>
<rect x="765" y="931" width="1" height="3" fill="#000" />
<text transform="translate(764,944.2) scale(0.935,1)" font-size="10">9 Dec 2019</text>
<rect x="829" y="931" width="1" height="3" fill="#000" />
<text transform="translate(828,944.2) scale(0.935,1)" font-size="10">18 Dec 2019</text>
<rect x="893" y="931" width="1" height="3" fill="#000" />
<text transform="translate(892,944.2) scale(0.935,1)" font-size="10">27 Dec 2019</text>
<rect x="957" y="931" width="1" height="3" fill="#000" />
<text transform="translate(956,944.2) scale(0.935,1)" font-size="10">6 Jan 2020</text>
<rect x="1021" y="931" width="1" height="3" fill="#000" />
<text transform="translate(1020,944.2) scale(0.935,1)" font-size="10">15 Jan 2020</text>
<rect x="1085" y="931" width="1" height="3" fill="#000" />
<text transform="translate(1084,944.2) scale(0.935,1)" font-size="10">24 Jan 2020</text>
<rect x="1149" y="931" width="1" height="3" fill="#000" />
<text transform="translate(1148,944.2) scale(0.935,1)" font-size="10">3 Feb 2020</text>
<rect x="1213" y="931" width="1" height="3" fill="#000" />
<text transform="translate(1212,944.2) scale(0.935,1)" font-size="10">12 Feb 2020</text>
<rect x="1277" y="931" width="1" height="3" fill="#000" />
<text transform="translate(1276,944.2) scale(0.935,1)" font-size="10">21 Feb 2020</text>
<rect x="1341" y="931" width="1" height="3" fill="#000" />
<text transform="translate(1340,944.2) scale(0.935,1)" font-size="10">2 Mar 2020</text>
</g>
<path d="M0 40 L3.5 36.5 L7 40 Z" fill="#000"/>
<text x="12.5" y="42" font-size="10" fill="#000" text-anchor="start" font-weight="normal" font-family="Liberation Sans, sans-serif" textLength="210" lengthAdjust="spacingAndGlyphs">USDJPY-,Daily&#160;&#160;107.742 108.570 107.394 108.293</text>
<path d="M1350.5 31 L1360.5 31 L1355.5 36 Z" fill="#c0c0c0"/>
<rect x="0" y="15" width="2" height="3" fill="#22aa22" />
<text x="5.5" y="17" font-size="12" fill="#000" font-family="'Liberation Sans', 'Noto Sans CJK SC', sans-serif" textLength="36" lengthAdjust="spacingAndGlyphs">新订单</text>
<path d="M54 16 L59.5 7 L70 14.5 L62.5 22 Z" fill="#e8b428" stroke="#a87410" stroke-width="0.8"/>
<path d="M56 15.5 L60 9 L67.5 14.3 L62 19.5 Z" fill="#f8dc70"/>
<path d="M54.2 16.5 L62.3 22.3 L70 15" fill="none" stroke="#8a5a10" stroke-width="1.6"/>
<rect x="85.5" y="6.5" width="8.5" height="9" fill="#58a0e8" stroke="#2868b8"/>
<rect x="85.5" y="6.5" width="3" height="9" fill="#9cccf8" />
<rect x="89" y="9" width="4" height="1" fill="#fff" />
<rect x="89" y="11" width="4" height="1" fill="#dfefff" />
<g fill="#eef4fc" stroke="#6c8cc0" stroke-width="1.6"><circle cx="85.8" cy="18.6" r="2.9"/><circle cx="90.3" cy="17.3" r="3.1"/><circle cx="94.6" cy="18.7" r="2.8"/><rect x="85.8" y="18" width="8.8" height="3.5"/></g><g fill="#eef4fc"><circle cx="85.8" cy="18.6" r="2.9"/><circle cx="90.3" cy="17.3" r="3.1"/><circle cx="94.6" cy="18.7" r="2.8"/><rect x="85.8" y="18" width="8.8" height="3.5"/></g>
<rect x="85" y="20.6" width="10.5" height="0.9" fill="#c4d4ec" />
<circle cx="118" cy="14" r="7" fill="none" stroke="#9cc0e8" stroke-width="1.5"/>
<path d="M118 21 A7 7 0 0 0 125 14" fill="none" stroke="#58b050" stroke-width="1.7"/>
<circle cx="118" cy="14" r="4" fill="none" stroke="#5c88d0" stroke-width="1.3"/>
<path d="M118 18 A4 4 0 0 0 122 14" fill="none" stroke="#58b050" stroke-width="1.4"/>
<rect x="117.4" y="14" width="1.3" height="7.5" fill="#40a838" />
<circle cx="118" cy="13.6" r="1.7" fill="#2858b8"/>
<path d="M138.5 12 L152 12 L147.5 21.5 L143 20.5 Z" fill="#f0c840" stroke="#c89820" stroke-width="0.8"/>
<ellipse cx="145.3" cy="10.3" rx="7.8" ry="2.8" fill="#78b0e4" stroke="#4880c0" stroke-width="0.6"/>
<path d="M141.3 10 a4.1 4.3 0 0 1 8.2 0 Z" fill="#5c98d8"/>
<circle cx="149.7" cy="17.8" r="4.2" fill="#d02010"/>
<rect x="148.2" y="16.3" width="3" height="3" fill="#fff" />
<text x="158.3" y="17" font-size="12" fill="#000" font-family="'Liberation Sans', 'Noto Sans CJK SC', sans-serif" textLength="48" lengthAdjust="spacingAndGlyphs">自动交易</text>
<rect x="213" y="1" width="1" height="25" fill="#a0a0a0" />
<rect x="214" y="1" width="1" height="25" fill="#fff" />
<rect x="217" y="4" width="3" height="1" fill="#b8b8b8" />
<rect x="217" y="6" width="3" height="1" fill="#b8b8b8" />
<rect x="217" y="8" width="3" height="1" fill="#b8b8b8" />
<rect x="217" y="10" width="3" height="1" fill="#b8b8b8" />
<rect x="217" y="12" width="3" height="1" fill="#b8b8b8" />
<rect x="217" y="14" width="3" height="1" fill="#b8b8b8" />
<rect x="217" y="16" width="3" height="1" fill="#b8b8b8" />
<rect x="217" y="18" width="3" height="1" fill="#b8b8b8" />
<rect x="217" y="20" width="3" height="1" fill="#b8b8b8" />
<rect x="217" y="22" width="3" height="1" fill="#b8b8b8" />
<rect x="230.8" y="9" width="1.4" height="13" fill="#555"/>
<rect x="229" y="19" width="13" height="1.3" fill="#555"/>
<path d="M229.6 10.4 L231.5 7.8 L233.4 10.4 Z" fill="#555"/>
<path d="M240.8 17.9 L243.2 19.65 L240.8 21.4 Z" fill="#555"/>
<path d="M235.1 16.6 L237.5 16.6 M237.5 17.8 L237.5 9.2 M237.5 10.2 L240 10.2" fill="none" stroke="#0a8a0a" stroke-width="1.3"/>
<rect x="251" y="2" width="26" height="22" fill="#f8f8f8" />
<rect x="251" y="23" width="26" height="1" fill="#fff" />
<rect x="276" y="2" width="1" height="22" fill="#fff" />
<rect x="251" y="2" width="26" height="1" fill="#a8a8a8" />
<rect x="251" y="2" width="1" height="22" fill="#a8a8a8" />
<rect x="258.8" y="9" width="1.4" height="13" fill="#555"/>
<rect x="257" y="19" width="13" height="1.3" fill="#555"/>
<path d="M257.6 10.4 L259.5 7.8 L261.4 10.4 Z" fill="#555"/>
<path d="M268.8 17.9 L271.2 19.65 L268.8 21.4 Z" fill="#555"/>
<rect x="265" y="6" width="1.2" height="12" fill="#0a8a0a" />
<rect x="263.7" y="8.7" width="3.8" height="7" fill="#50e070" stroke="#0a8a0a"/>
<rect x="286.8" y="9" width="1.4" height="13" fill="#555"/>
<rect x="285" y="19" width="13" height="1.3" fill="#555"/>
<path d="M285.6 10.4 L287.5 7.8 L289.4 10.4 Z" fill="#555"/>
<path d="M296.8 17.9 L299.2 19.65 L296.8 21.4 Z" fill="#555"/>
<path d="M286.2 16.6 Q290 11 292.3 11.3 Q294.5 11.6 297.6 15.4" fill="none" stroke="#2a8a2a" stroke-width="1.1"/>
<rect x="308" y="3" width="1" height="21" fill="#a0a0a0" />
<path d="M326.6 15.600000000000001 L331.4 19.9" stroke="#a07818" stroke-width="4.2" stroke-linecap="round"/>
<path d="M326.6 15.600000000000001 L331.4 19.9" stroke="#ecd040" stroke-width="2.6" stroke-linecap="round"/>
<circle cx="323" cy="11.9" r="5.6" fill="#d4ecfc" stroke="#3474c0" stroke-width="1.1"/>
<circle cx="322.2" cy="10.700000000000001" r="3.4" fill="#e8f6ff"/>
<rect x="319.6" y="10.9" width="6.8" height="2" fill="#3c88bc"/>
<rect x="322" y="8.5" width="2" height="6.8" fill="#3c88bc"/>
<path d="M354.5 15.3 L359.29999999999995 19.6" stroke="#a07818" stroke-width="4.2" stroke-linecap="round"/>
<path d="M354.5 15.3 L359.29999999999995 19.6" stroke="#ecd040" stroke-width="2.6" stroke-linecap="round"/>
<circle cx="350.9" cy="11.6" r="5.6" fill="#d4ecfc" stroke="#3474c0" stroke-width="1.1"/>
<circle cx="350.09999999999997" cy="10.4" r="3.4" fill="#e8f6ff"/>
<rect x="347.5" y="10.6" width="6.8" height="2" fill="#3c88bc"/>
<rect x="373" y="6" width="7.9" height="7.9" fill="#3ca018" />
<rect x="374.1" y="8.9" width="6.2" height="4.1" rx="0.8" fill="#fff"/>
<rect x="375" y="10.4" width="4.4" height="0.9" fill="#a8e090" />
<rect x="374.1" y="7" width="0.9" height="0.9" fill="#e8f0ff" />
<rect x="381" y="6" width="7.9" height="7.9" fill="#2050c8" />
<rect x="382.1" y="8.9" width="6.2" height="4.1" rx="0.8" fill="#fff"/>
<rect x="383" y="10.4" width="4.4" height="0.9" fill="#a0b8f0" />
<rect x="382.1" y="7" width="0.9" height="0.9" fill="#e8f0ff" />
<rect x="373" y="14" width="7.9" height="7.9" fill="#2050c8" />
<rect x="374.1" y="16.9" width="6.2" height="4.1" rx="0.8" fill="#fff"/>
<rect x="375" y="18.4" width="4.4" height="0.9" fill="#a0b8f0" />
<rect x="374.1" y="15" width="0.9" height="0.9" fill="#e8f0ff" />
<rect x="381" y="14" width="7.9" height="7.9" fill="#3ca018" />
<rect x="382.1" y="16.9" width="6.2" height="4.1" rx="0.8" fill="#fff"/>
<rect x="383" y="18.4" width="4.4" height="0.9" fill="#a8e090" />
<rect x="382.1" y="15" width="0.9" height="0.9" fill="#e8f0ff" />
<rect x="398" y="3" width="1" height="21" fill="#a0a0a0" />
<rect x="403" y="2" width="25" height="22" fill="#f8f8f8" />
<rect x="403" y="23" width="25" height="1" fill="#fff" />
<rect x="427" y="2" width="1" height="22" fill="#fff" />
<rect x="403" y="2" width="25" height="1" fill="#a8a8a8" />
<rect x="403" y="2" width="1" height="22" fill="#a8a8a8" />
<rect x="410.8" y="9" width="1.4" height="13" fill="#555"/>
<rect x="409" y="19" width="13" height="1.3" fill="#555"/>
<path d="M409.6 10.4 L411.5 7.8 L413.4 10.4 Z" fill="#555"/>
<path d="M420.8 17.9 L423.2 19.65 L420.8 21.4 Z" fill="#555"/>
<path d="M416.3 10.3 L416.3 16.5 L420 13.4 Z" fill="#68e878" stroke="#109a10" stroke-width="1"/>
<rect x="431" y="2" width="25" height="22" fill="#f8f8f8" />
<rect x="431" y="23" width="25" height="1" fill="#fff" />
<rect x="455" y="2" width="1" height="22" fill="#fff" />
<rect x="431" y="2" width="25" height="1" fill="#a8a8a8" />
<rect x="431" y="2" width="1" height="22" fill="#a8a8a8" />
<rect x="438.8" y="9" width="1.4" height="13" fill="#555"/>
<rect x="437" y="19" width="13" height="1.3" fill="#555"/>
<path d="M437.6 10.4 L439.5 7.8 L441.4 10.4 Z" fill="#555"/>
<path d="M448.8 17.9 L451.2 19.65 L448.8 21.4 Z" fill="#555"/>
<rect x="445" y="8" width="1.2" height="10" fill="#1868a0" />
<path d="M446.3 13.5 L449.2 11 L448.7 12.9 L451.2 13.5 L448.7 14.1 L449.2 16 Z" fill="#e04808" stroke="#903000" stroke-width="0.4"/>
<rect x="460" y="3" width="1" height="21" fill="#a0a0a0" />
<path d="M470.5 7.5 L478.5 7.5 L481.5 10.5 L481.5 19.5 L470.5 19.5 Z" fill="#fafafa" stroke="#888"/>
<path d="M473.5 10 q-1.5 0 -1.3 1.5 q0.2 1.3 -0.9 1.6 q1.1 0.3 0.9 1.6 q-0.2 1.5 1.3 1.5" fill="none" stroke="#443" stroke-width="0.9"/>
<rect x="478" y="12" width="4" height="11" fill="#10a010" />
<rect x="474.5" y="15.5" width="11" height="4" fill="#10a010" />
<rect x="479" y="13" width="2" height="9" fill="#58f058" />
<rect x="475.5" y="16.5" width="9" height="2" fill="#58f058" />
<path d="M492 13 L497 13 L494.5 16 Z" fill="#000"/>
<circle cx="516" cy="14" r="7.9" fill="#1c68d8"/>
<circle cx="516" cy="13.6" r="6.6" fill="none" stroke="#58a0f0" stroke-width="1"/>
<circle cx="516" cy="14" r="5" fill="#f4f8ff"/>
<path d="M515.8 10.3 L515.8 13.8 L518.6 13.8" fill="none" stroke="#333" stroke-width="1.1"/>
<path d="M531 13 L536 13 L533.5 16 Z" fill="#000"/>
<rect x="547.5" y="7.5" width="15" height="13" fill="#fff" stroke="#3868c0"/>
<rect x="548" y="8" width="14" height="2" fill="#78a8e8" />
<rect x="548" y="14.4" width="14" height="0.9" fill="#4878c8" />
<path d="M549.5 13.2 L551.5 13.2 L553 12 L555 12.6 L557 11.3 L558.5 12 L560.5 11.2" fill="none" stroke="#a02810" stroke-width="1.1"/>
<path d="M549.5 18.6 L551.5 18.6 L553 17.6 L554.5 18.6 L557 16.4 L559 18.4 L560.5 18.6" fill="none" stroke="#108830" stroke-width="1.1"/>
<path d="M570 13 L575 13 L572.5 16 Z" fill="#000"/>
<rect x="581" y="1" width="1" height="25" fill="#a0a0a0" />
<rect x="582" y="1" width="1" height="25" fill="#fff" />
<rect x="585" y="4" width="3" height="1" fill="#b8b8b8" />
<rect x="585" y="6" width="3" height="1" fill="#b8b8b8" />
<rect x="585" y="8" width="3" height="1" fill="#b8b8b8" />
<rect x="585" y="10" width="3" height="1" fill="#b8b8b8" />
<rect x="585" y="12" width="3" height="1" fill="#b8b8b8" />
<rect x="585" y="14" width="3" height="1" fill="#b8b8b8" />
<rect x="585" y="16" width="3" height="1" fill="#b8b8b8" />
<rect x="585" y="18" width="3" height="1" fill="#b8b8b8" />
<rect x="585" y="20" width="3" height="1" fill="#b8b8b8" />
<rect x="585" y="22" width="3" height="1" fill="#b8b8b8" />
<rect x="591" y="2" width="25" height="22" fill="#f8f8f8" />
<rect x="591" y="23" width="25" height="1" fill="#fff" />
<rect x="615" y="2" width="1" height="22" fill="#fff" />
<rect x="591" y="2" width="25" height="1" fill="#a8a8a8" />
<rect x="591" y="2" width="1" height="22" fill="#a8a8a8" />
<path d="M599 7 L599 19 L602 16.5 L604.3 21 L606 20.2 L603.8 15.8 L607.5 15.5 Z" fill="#444"/>
<rect x="631" y="7" width="1" height="15" fill="#555" />
<rect x="624" y="14" width="15" height="1" fill="#555" />
<rect x="631" y="14" width="1" height="1" fill="#f0f0f0" />
<rect x="648" y="3" width="1" height="21" fill="#a0a0a0" />
<rect x="665" y="8" width="1" height="13" fill="#555" />
<rect x="688" y="14" width="12" height="1" fill="#555" />
<path d="M715.7 21 L728 9" stroke="#555" stroke-width="1.2"/>
<path d="M742 14.9 L755.1 6.3 M743.7 20.6 L756.3 11.4" stroke="#555" stroke-width="1.1" fill="none"/>
<path d="M747.1 10.5 L746.3000000000001 19.5" stroke="#555" stroke-width="1"/>
<path d="M750.6 8.2 L749.8000000000001 17" stroke="#555" stroke-width="1"/>
<path d="M754 6 L753.2 14.5" stroke="#555" stroke-width="1"/>
<text x="752.5" y="23" font-size="7" font-weight="bold" fill="#333" font-family="Liberation Sans, sans-serif">E</text>
<line x1="771" y1="7.5" x2="784" y2="7.5" stroke="#555" stroke-dasharray="1 1" shape-rendering="crispEdges"/>
<line x1="771" y1="10.5" x2="784" y2="10.5" stroke="#555" stroke-dasharray="1 1" shape-rendering="crispEdges"/>
<line x1="771" y1="14.5" x2="784" y2="14.5" stroke="#555" stroke-dasharray="1 1" shape-rendering="crispEdges"/>
<line x1="771" y1="18.5" x2="784" y2="18.5" stroke="#555" stroke-dasharray="1 1" shape-rendering="crispEdges"/>
<text x="780.5" y="23" font-size="7" font-weight="bold" fill="#333" font-family="Liberation Sans, sans-serif">F</text>
<text x="801.3" y="19" font-size="12" font-weight="bold" fill="#666" font-family="Liberation Sans, sans-serif">A</text>
<rect x="828.5" y="8.5" width="11" height="12" fill="none" stroke="#555" stroke-dasharray="1 1" shape-rendering="crispEdges"/>
<text x="834" y="19" font-size="11" font-weight="bold" fill="#555" text-anchor="middle" font-family="Liberation Sans, sans-serif">T</text>
<path d="M855.5 11.5 L858.5 8 L861.5 11.5 L858.5 13 Z" fill="#444"/>
<path d="M862.5 17.5 L866 15.5 L869 17.5 L866 21 Z" fill="#444"/>
<path d="M858 15 L860 17.5 L864.5 12" fill="none" stroke="#444" stroke-width="1.3"/>
<path d="M876 13 L881 13 L878.5 16 Z" fill="#000"/>
<rect x="887" y="1" width="1" height="25" fill="#a0a0a0" />
<rect x="888" y="1" width="1" height="25" fill="#fff" />
<rect x="891" y="4" width="3" height="1" fill="#b8b8b8" />
<rect x="891" y="6" width="3" height="1" fill="#b8b8b8" />
<rect x="891" y="8" width="3" height="1" fill="#b8b8b8" />
<rect x="891" y="10" width="3" height="1" fill="#b8b8b8" />
<rect x="891" y="12" width="3" height="1" fill="#b8b8b8" />
<rect x="891" y="14" width="3" height="1" fill="#b8b8b8" />
<rect x="891" y="16" width="3" height="1" fill="#b8b8b8" />
<rect x="891" y="18" width="3" height="1" fill="#b8b8b8" />
<rect x="891" y="20" width="3" height="1" fill="#b8b8b8" />
<rect x="891" y="22" width="3" height="1" fill="#b8b8b8" />
<rect x="1065" y="2" width="25" height="22" fill="#f8f8f8" />
<rect x="1065" y="23" width="25" height="1" fill="#fff" />
<rect x="1089" y="2" width="1" height="22" fill="#fff" />
<rect x="1065" y="2" width="25" height="1" fill="#a8a8a8" />
<rect x="1065" y="2" width="1" height="22" fill="#a8a8a8" />
<text x="908.7" y="17.5" font-size="9" fill="#444" text-anchor="middle" font-family="Liberation Sans, sans-serif">M1</text>
<text x="936.5" y="17.5" font-size="9" fill="#444" text-anchor="middle" font-family="Liberation Sans, sans-serif">M5</text>
<text x="965" y="17.5" font-size="9" fill="#444" text-anchor="middle" font-family="Liberation Sans, sans-serif">M15</text>
<text x="993" y="17.5" font-size="9" fill="#444" text-anchor="middle" font-family="Liberation Sans, sans-serif">M30</text>
<text x="1021.2" y="17.5" font-size="9" fill="#444" text-anchor="middle" font-family="Liberation Sans, sans-serif">H1</text>
<text x="1048.7" y="17.5" font-size="9" fill="#444" text-anchor="middle" font-family="Liberation Sans, sans-serif">H4</text>
<text x="1077.3" y="17.5" font-size="9" fill="#444" text-anchor="middle" font-family="Liberation Sans, sans-serif">D1</text>
<text x="1106" y="17.5" font-size="9" fill="#444" text-anchor="middle" font-family="Liberation Sans, sans-serif">W1</text>
<text x="1133" y="17.5" font-size="9" fill="#444" text-anchor="middle" font-family="Liberation Sans, sans-serif">MN</text>
<rect x="1148" y="1" width="1" height="25" fill="#a0a0a0" />
<rect x="1149" y="1" width="1" height="25" fill="#fff" />
<path d="M1616 14 L1610.8 18.8" stroke="#2858c8" stroke-width="2.4" stroke-linecap="round"/>
<circle cx="1618.6" cy="11.4" r="3.8" fill="#f4f8ff" stroke="#2c64d8" stroke-width="1.3"/>
<ellipse cx="1651" cy="11.5" rx="6.5" ry="5" fill="#f6f6f8" stroke="#b0b0b0"/>
<path d="M1652 16 L1655 18 L1654.5 15.5 Z" fill="#888"/>
<ellipse cx="1642" cy="15" rx="5" ry="4" fill="#f6f6f8" stroke="#b0b0b0"/>
<path d="M1640 18.5 L1639.5 21 L1642.5 19 Z" fill="#888"/>
<defs>
<linearGradient id="gt" x1="0" y1="0" x2="0" y2="1"><stop offset="0" stop-color="#5353f3"/><stop offset="1" stop-color="#3737df"/></linearGradient>
<linearGradient id="gb" x1="0" y1="0" x2="0" y2="1"><stop offset="0" stop-color="#3232d8"/><stop offset="1" stop-color="#0000aa"/></linearGradient>
<linearGradient id="gg" x1="0" y1="0" x2="0" y2="1"><stop offset="0" stop-color="#f4f4f4"/><stop offset="0.5" stop-color="#e8e8e8"/><stop offset="0.5" stop-color="#dcdcdc"/><stop offset="1" stop-color="#d2d2d2"/></linearGradient>
</defs>
<rect x="0" y="50" width="52" height="24" fill="url(#gt)" />
<rect x="167" y="50" width="52" height="24" fill="url(#gt)" />
<rect x="0" y="74" width="109" height="40" fill="url(#gb)" />
<rect x="111" y="74" width="108" height="40" fill="url(#gb)" />
<rect x="4" y="74" width="44" height="1" fill="#8c8ce8" />
<rect x="171" y="74" width="44" height="1" fill="#8c8ce8" />
<rect x="54.5" y="50.5" width="110" height="21" fill="#fff" stroke="#b8b8b8" shape-rendering="crispEdges"/>
<rect x="55.5" y="51.5" width="19" height="19" fill="url(#gg)" stroke="#c4c4c4" shape-rendering="crispEdges"/>
<rect x="144.5" y="51.5" width="19" height="19" fill="url(#gg)" stroke="#c4c4c4" shape-rendering="crispEdges"/>
<path d="M62.5 59.5 L67.5 59.5 L65 62.5 Z" fill="#5060b0"/>
<path d="M151 62 L156 62 L153.5 59 Z" fill="#5060b0"/>
<text x="140" y="65.5" font-size="12" fill="#000" text-anchor="end" font-family="Liberation Sans, sans-serif">1.00</text>
<text x="12.5" y="66" font-size="12" fill="#fff" font-family="Liberation Sans, sans-serif" textLength="25.5" lengthAdjust="spacingAndGlyphs">SELL</text>
<text x="181" y="66" font-size="12" fill="#fff" font-family="Liberation Sans, sans-serif" textLength="22.7" lengthAdjust="spacingAndGlyphs">BUY</text>
<text x="23.5" y="104.8" font-size="12" font-weight="bold" fill="#fff" font-family="Liberation Sans, sans-serif">108</text>
<text x="47.8" y="105" font-size="33.5" fill="#fff" font-family="Liberation Sans, sans-serif" textLength="35" lengthAdjust="spacingAndGlyphs">29</text>
<text x="87.3" y="88.9" font-size="12" font-weight="bold" fill="#fff" font-family="Liberation Sans, sans-serif">3</text>
<text x="133.5" y="104.8" font-size="12" font-weight="bold" fill="#fff" font-family="Liberation Sans, sans-serif">108</text>
<text x="159" y="105" font-size="33.5" fill="#fff" font-family="Liberation Sans, sans-serif" textLength="35" lengthAdjust="spacingAndGlyphs">37</text>
<text x="198.2" y="88.9" font-size="12" font-weight="bold" fill="#fff" font-family="Liberation Sans, sans-serif">2</text>
</svg>
</body></html>
